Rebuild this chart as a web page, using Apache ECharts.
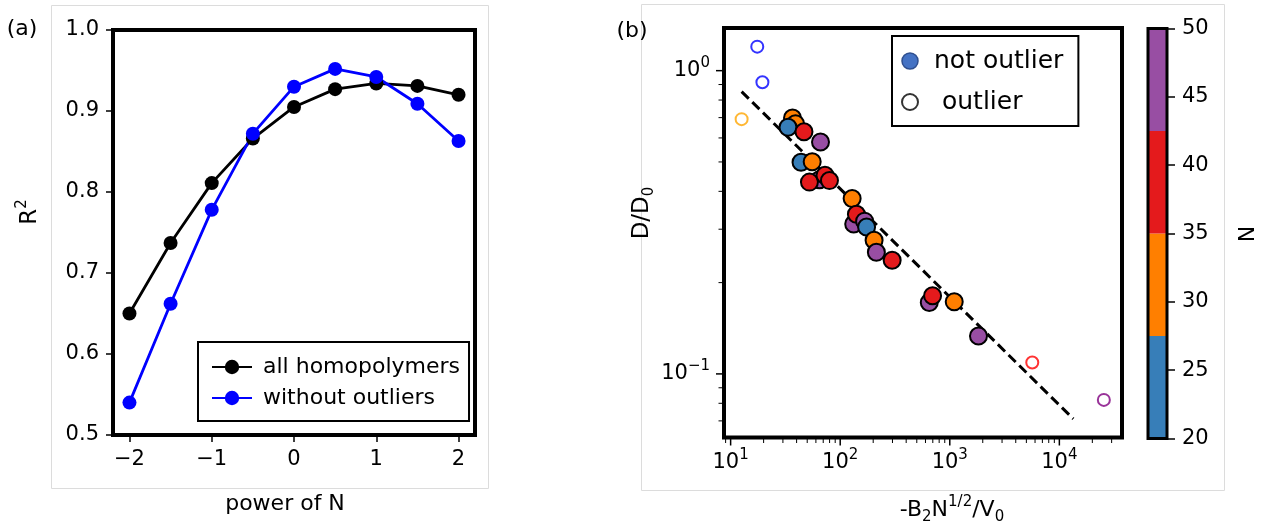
<!DOCTYPE html>
<html>
<head>
<meta charset="utf-8">
<script src="https://cdn.jsdelivr.net/npm/echarts@6/dist/echarts.min.js"></script>
<style>
  html, body { margin: 0; padding: 0; background: #fff; }
  #chart { width: 1278px; height: 525px; }
</style>
</head>
<body>
<div id="chart"></div>
<script>
// ---- Panel (a): R^2 of the scaling fit against the exponent of N ----
const powerOfN = [-2, -1.5, -1, -0.5, 0, 0.5, 1, 1.5, 2];
const r2All = [0.650, 0.737, 0.811, 0.866, 0.905, 0.927, 0.934, 0.931, 0.920];
const r2NoOutliers = [0.540, 0.662, 0.778, 0.872, 0.930, 0.952, 0.942, 0.909, 0.863];
const aXTicks = [-2, -1, 0, 1, 2];

// ---- Panel (b): D/D0 against -B2 N^(1/2) / V0 ----
// regular homopolymers: x, D/D0, chain length N
const inX = [36.7, 39.1, 33.4, 46.7, 66.1, 43.9, 55.5, 64.7, 52.4, 72.6, 79.8, 128.5,
             132.8, 140.6, 167.0, 174.1, 203.8, 213.8, 297.9, 650, 696.6, 1098, 1828];
const inY = [0.698, 0.668, 0.651, 0.629, 0.582, 0.499, 0.501, 0.437, 0.429, 0.452, 0.434, 0.379,
             0.312, 0.336, 0.319, 0.305, 0.276, 0.252, 0.237, 0.172, 0.181, 0.173, 0.1333];
const inN = [30, 30, 20, 40, 50, 20, 30, 50, 40, 40, 40, 30,
             50, 40, 50, 20, 30, 50, 40, 50, 40, 30, 50];
// outliers
const outX = [17.5, 19.5, 12.6, 5660, 25470];
const outY = [1.20, 0.916, 0.692, 0.109, 0.0821];
const outN = [20, 20, 30, 40, 50];
// power-law fit (dashed)
const fitX = [12.6, 13400];
const fitY = [0.853, 0.0711];

// colour bar for N
const nEdges = [20, 27.5, 35, 42.5, 50];
const nColors = ['#377eb8', '#ff7f00', '#e41a1c', '#984ea3'];
const outlierColors = ['#0000ff', '#ffa500', '#ff0000', '#800080'];
const nTicks = [20, 25, 30, 35, 40, 45, 50];

// axis extents
const A_X = [-2.2, 2.2], A_Y = [0.5, 1.0];
const B_X = [8.7, 37300], B_Y = [0.0617, 1.3825];

const FONT = 'DejaVu Sans';
const zip = (xs, ys, zs) => xs.map((x, i) => zs ? [x, ys[i], zs[i]] : [x, ys[i]]);

// decade ticks: 10^k as rich text
const isDecade = v => Math.abs(Math.log10(v) - Math.round(Math.log10(v))) < 1e-6;
function decadeLabel(v) {
  if (!isDecade(v)) return '';
  return '{b|10}{s|' + String(Math.round(Math.log10(v))).replace('-', '\u2212') + '}';
}
const decadeRich = {
  b: { fontSize: 21, fontFamily: FONT, color: '#000', lineHeight: 30 },
  s: { fontSize: 15, fontFamily: FONT, color: '#000', lineHeight: 17, verticalAlign: 'top' }
};

// minor tick positions 2..9 x 10^k inside an extent
function minorTicks(ext) {
  const out = [];
  for (let k = -3; k <= 5; k++) {
    for (let m = 2; m <= 9; m++) {
      const v = m * Math.pow(10, k);
      if (v > ext[0] && v < ext[1]) out.push(v);
    }
  }
  return out;
}
function majorTicks(ext) {
  const out = [];
  for (let k = -3; k <= 5; k++) {
    const v = Math.pow(10, k);
    if (v >= ext[0] && v <= ext[1]) out.push(v);
  }
  return out;
}

// short tick marks drawn outside the frame of the log panel
function logTickSeries(values, side, len, width) {
  const data = side === 'bottom' ? values.map(v => [v, B_Y[0]]) : values.map(v => [B_X[0], v]);
  return {
    type: 'custom', xAxisIndex: 1, yAxisIndex: 1, silent: true, clip: false, z: 5,
    data: data,
    renderItem: function (params, api) {
      const p = api.coord([api.value(0), api.value(1)]);
      const d = side === 'bottom' ? [0, len] : [-len, 0];
      return {
        type: 'line',
        shape: { x1: p[0], y1: p[1], x2: p[0] + d[0], y2: p[1] + d[1] },
        style: { stroke: '#000', lineWidth: width }
      };
    }
  };
}

function pieces(colors) {
  return colors.map((c, i) => i < colors.length - 1
    ? { gte: nEdges[i], lt: nEdges[i + 1], color: c }
    : { gte: nEdges[i], lte: nEdges[i + 1], color: c });
}

const chart = echarts.init(document.getElementById('chart'), null, { renderer: 'canvas' });

const labelStyle = { fontSize: 21, fontFamily: FONT, color: '#000' };
const tickStyle = { show: true, length: 7, lineStyle: { color: '#000', width: 1.5 } };
const noLine = { show: false, onZero: false };

chart.setOption({
  animation: false,
  backgroundColor: '#fff',
  textStyle: { fontFamily: FONT },
  grid: [
    { left: 113, top: 30, width: 362, height: 405, show: true, borderColor: '#000', borderWidth: 4, backgroundColor: 'transparent' },
    { left: 724, top: 28, width: 398, height: 409.5, show: true, borderColor: '#000', borderWidth: 4, backgroundColor: 'transparent' },
    { left: 1148, top: 28.5, width: 19, height: 410, show: false }
  ],
  xAxis: [
    {
      gridIndex: 0, type: 'value', min: A_X[0], max: A_X[1],
      axisLine: noLine, axisTick: tickStyle, splitLine: { show: false },
      axisLabel: Object.assign({ margin: 14, showMinLabel: false, showMaxLabel: false,
        formatter: v => aXTicks.includes(v) ? String(v).replace('-', '\u2212') : '' }, labelStyle)
    },
    {
      gridIndex: 1, type: 'log', logBase: 10, min: B_X[0], max: B_X[1],
      axisLine: noLine, axisTick: { show: false }, splitLine: { show: false }, minorTick: { show: false },
      axisLabel: { margin: 10, formatter: decadeLabel, rich: decadeRich }
    },
    { gridIndex: 2, type: 'value', min: 0, max: 1, show: false, axisLine: noLine }
  ],
  yAxis: [
    {
      gridIndex: 0, type: 'value', min: A_Y[0], max: A_Y[1], interval: 0.1,
      axisLine: noLine, splitLine: { show: false },
      axisTick: tickStyle,
      axisLabel: Object.assign({ margin: 14, formatter: v => v.toFixed(1) }, labelStyle)
    },
    {
      gridIndex: 1, type: 'log', logBase: 10, min: B_Y[0], max: B_Y[1],
      axisLine: noLine, axisTick: { show: false }, splitLine: { show: false }, minorTick: { show: false },
      axisLabel: { margin: 14, formatter: decadeLabel, rich: decadeRich }
    },
    {
      gridIndex: 2, type: 'value', position: 'right', min: nTicks[0], max: nTicks[nTicks.length - 1], interval: 5,
      axisLine: noLine, splitLine: { show: false },
      axisTick: { show: true, length: 8, lineStyle: { color: '#000', width: 1.5 } },
      axisLabel: Object.assign({ margin: 15 }, labelStyle)
    }
  ],
  visualMap: [
    { type: 'piecewise', show: false, seriesIndex: 3, dimension: 2, pieces: pieces(nColors) },
    { type: 'piecewise', show: false, seriesIndex: 4, dimension: 2, pieces: pieces(outlierColors) }
  ],
  legend: [
    {
      data: ['all homopolymers', 'without outliers'],
      left: 198, top: 342, orient: 'vertical', selectedMode: false,
      itemWidth: 40, itemHeight: 18, itemGap: 7,
      padding: [13, 9, 11, 13],
      borderColor: '#000', borderWidth: 2, borderRadius: 0, backgroundColor: '#fff',
      textStyle: { fontSize: 22, fontFamily: FONT, color: '#000', lineHeight: 24, padding: [0, 0, 0, 6] }
    },
    {
      data: [
        { name: 'not outlier', icon: 'circle', itemStyle: { color: '#4472c4', borderColor: '#2f4f8f', borderWidth: 1.5 } },
        { name: ' outlier', icon: 'circle', itemStyle: { color: '#fff', borderColor: '#000', borderWidth: 2 } }
      ],
      left: 892, top: 36, orient: 'vertical', selectedMode: false,
      itemWidth: 16, itemHeight: 16, itemGap: 13,
      padding: [11, 15, 10, 9],
      borderColor: '#000', borderWidth: 2, borderRadius: 0, backgroundColor: '#fff',
      textStyle: { fontSize: 25, fontFamily: FONT, color: '#000', lineHeight: 28, padding: [0, 0, 0, 11] }
    }
  ],
  series: [
    {
      name: 'all homopolymers', type: 'line', xAxisIndex: 0, yAxisIndex: 0,
      data: zip(powerOfN, r2All), symbol: 'circle', symbolSize: 14,
      itemStyle: { color: '#000' }, lineStyle: { color: '#000', width: 2.8 }, emphasis: { disabled: true }
    },
    {
      name: 'without outliers', type: 'line', xAxisIndex: 0, yAxisIndex: 0,
      data: zip(powerOfN, r2NoOutliers), symbol: 'circle', symbolSize: 14,
      itemStyle: { color: '#0000ff' }, lineStyle: { color: '#0000ff', width: 2.8 }, emphasis: { disabled: true }
    },
    {
      name: 'fit', type: 'line', xAxisIndex: 1, yAxisIndex: 1,
      data: zip(fitX, fitY), showSymbol: false, symbol: 'none', silent: true,
      lineStyle: { color: '#000', width: 3, type: [10, 5] }
    },
    {
      name: 'not outlier', type: 'scatter', xAxisIndex: 1, yAxisIndex: 1,
      data: zip(inX, inY, inN), symbol: 'circle', symbolSize: 17,
      itemStyle: { borderColor: '#000', borderWidth: 2, opacity: 1 }, emphasis: { disabled: true }, z: 3
    },
    {
      name: ' outlier', type: 'scatter', xAxisIndex: 1, yAxisIndex: 1,
      data: zip(outX, outY, outN), symbol: 'emptyCircle', symbolSize: 12,
      itemStyle: { borderWidth: 2 }, emphasis: { disabled: true }, z: 3
    },
    logTickSeries(majorTicks(B_X), 'bottom', 8, 1.5),
    logTickSeries(minorTicks(B_X), 'bottom', 5.5, 1),
    logTickSeries(majorTicks(B_Y), 'left', 8, 1.5),
    logTickSeries(minorTicks(B_Y), 'left', 5.5, 1),
    {
      type: 'custom', xAxisIndex: 2, yAxisIndex: 2, silent: true, clip: false,
      data: nColors.map((c, i) => [nEdges[i], nEdges[i + 1]]),
      renderItem: function (params, api) {
        const p0 = api.coord([0, api.value(0)]);
        const p1 = api.coord([1, api.value(1)]);
        return {
          type: 'rect',
          shape: { x: p0[0], y: p1[1], width: p1[0] - p0[0], height: p0[1] - p1[1] },
          style: { fill: nColors[params.dataIndex], stroke: null }
        };
      }
    },
    {
      type: 'custom', xAxisIndex: 2, yAxisIndex: 2, silent: true, clip: false, z: 6,
      data: [[nEdges[0], nEdges[nEdges.length - 1]]],
      renderItem: function (params, api) {
        const p0 = api.coord([0, api.value(0)]);
        const p1 = api.coord([1, api.value(1)]);
        return {
          type: 'rect',
          shape: { x: p0[0], y: p1[1], width: p1[0] - p0[0], height: p0[1] - p1[1] },
          style: { fill: null, stroke: '#000', lineWidth: 3 }
        };
      }
    }
  ],
  graphic: [
    { type: 'rect', z: -10, silent: true, shape: { x: 51.5, y: 5.5, width: 437, height: 483 }, style: { fill: null, stroke: '#dcdcdc', lineWidth: 1 } },
    { type: 'rect', z: -10, silent: true, shape: { x: 641.5, y: 4.5, width: 583, height: 486 }, style: { fill: null, stroke: '#dcdcdc', lineWidth: 1 } },
    { type: 'text', x: 22, y: 29, style: { text: '(a)', fontSize: 22, fontFamily: FONT, fill: '#000', align: 'center', verticalAlign: 'middle' } },
    { type: 'text', x: 632, y: 31, style: { text: '(b)', fontSize: 22, fontFamily: FONT, fill: '#000', align: 'center', verticalAlign: 'middle' } },
    {
      type: 'text', x: 30, y: 212, rotation: Math.PI / 2,
      style: {
        text: '{m|R}{s|2}', align: 'center', verticalAlign: 'middle',
        rich: {
          m: { fontSize: 23, fontFamily: FONT, fill: '#000', lineHeight: 30 },
          s: { fontSize: 15, fontFamily: FONT, fill: '#000', lineHeight: 17, verticalAlign: 'top' }
        }
      }
    },
    { type: 'text', x: 285, y: 504, style: { text: 'power of N', fontSize: 22, fontFamily: FONT, fill: '#000', align: 'center', verticalAlign: 'middle' } },
    {
      type: 'text', x: 642, y: 213, rotation: Math.PI / 2,
      style: {
        text: '{m|D/D}{d|0}', align: 'center', verticalAlign: 'middle',
        rich: {
          m: { fontSize: 23, fontFamily: FONT, fill: '#000', lineHeight: 30 },
          d: { fontSize: 15, fontFamily: FONT, fill: '#000', lineHeight: 16, verticalAlign: 'bottom' }
        }
      }
    },
    {
      type: 'text', x: 952, y: 510,
      style: {
        text: '{m|-B}{d|2}{m|N}{u|1/2}{m|/V}{d|0}', align: 'center', verticalAlign: 'middle',
        rich: {
          m: { fontSize: 22, fontFamily: FONT, fill: '#000', lineHeight: 30 },
          d: { fontSize: 15, fontFamily: FONT, fill: '#000', lineHeight: 16, verticalAlign: 'bottom' },
          u: { fontSize: 15, fontFamily: FONT, fill: '#000', lineHeight: 17, verticalAlign: 'top' }
        }
      }
    },
    { type: 'text', x: 1248, y: 234, rotation: Math.PI / 2, style: { text: 'N', fontSize: 22, fontFamily: FONT, fill: '#000', align: 'center', verticalAlign: 'middle' } }
  ]
});
</script>
</body>
</html>
